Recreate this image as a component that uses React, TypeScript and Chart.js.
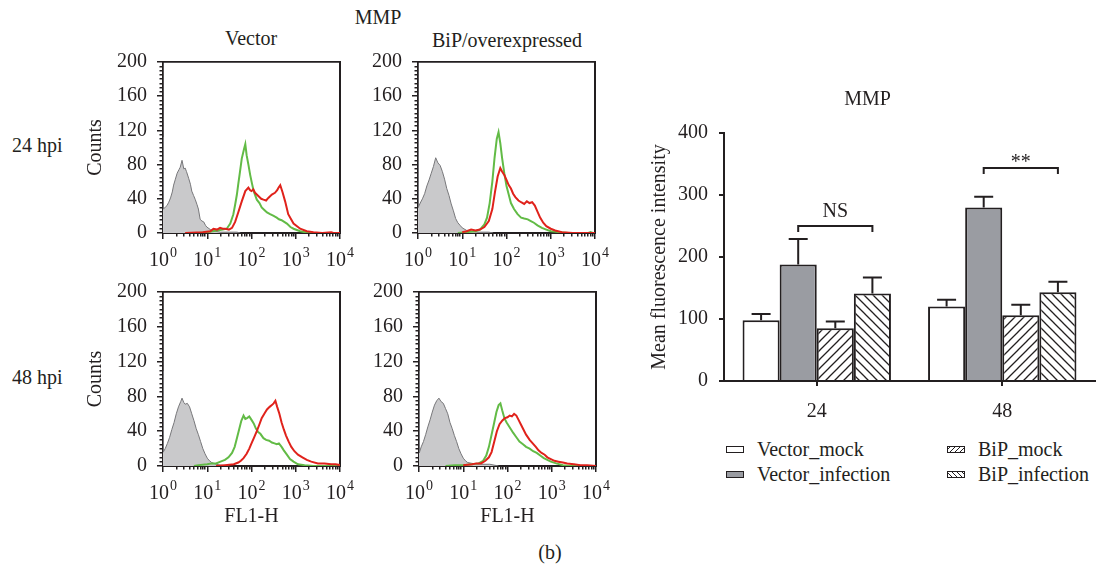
import React, { useEffect, useRef } from 'react';
import { Chart, registerables } from 'chart.js';

Chart.register(...registerables);

const FONT = "'Liberation Serif', 'Times New Roman', serif";
const INK = '#231f20';
const GRAY_FILL = '#c9c9cb';
const GRAY_LINE = '#77777a';
const GREEN = '#62bb46';
const RED = '#e0221b';
const BAR_GRAY = '#9a9ca2';

// ---------- Flow histogram data (log10 of FL1-H, counts) ----------
// 24 hpi, Vector
const v24GrayLog = [0, 0.005, 0.05, 0.09, 0.13, 0.17, 0.21, 0.24, 0.28, 0.32, 0.36, 0.39, 0.43, 0.47, 0.5, 0.53, 0.58, 0.62, 0.65, 0.69, 0.73, 0.77, 0.8, 0.84, 0.88, 0.92, 0.96, 0.99, 1.07, 1.18, 1.3, 1.5, 1.67, 1.75];
const v24GrayCounts = [112, 28, 30, 32, 36, 41, 48, 56, 63, 70, 74, 77, 85, 75, 76, 72, 64, 57, 49, 44, 39, 33, 28, 16, 14, 13, 9, 7, 4, 2, 1, 1, 1, 0];
const v24GreenLog = [0.8, 1.0, 1.22, 1.35, 1.44, 1.52, 1.59, 1.63, 1.67, 1.7, 1.73, 1.78, 1.83, 1.86, 1.89, 1.93, 1.97, 2.01, 2.05, 2.12, 2.18, 2.23, 2.29, 2.35, 2.42, 2.5, 2.57, 2.62, 2.68, 2.74, 2.8, 2.88, 2.95, 3.1, 3.3, 4.0];
const v24GreenCounts = [0, 1, 3, 4, 5, 11, 22, 33, 45, 57, 68, 87, 98, 104, 91, 80, 68, 58, 49, 39, 35, 30, 27, 24, 22, 20, 18, 16, 15, 13, 11, 7, 5, 2, 0, 0];
const v24RedLog = [0.5, 0.9, 1.07, 1.14, 1.22, 1.29, 1.35, 1.41, 1.49, 1.56, 1.63, 1.7, 1.78, 1.86, 1.93, 1.97, 2.0, 2.04, 2.08, 2.16, 2.22, 2.27, 2.33, 2.38, 2.46, 2.53, 2.58, 2.61, 2.65, 2.7, 2.76, 2.83, 2.95, 3.1, 3.25, 3.4, 3.6, 3.8, 3.85, 4.0];
const v24RedCounts = [0, 1, 2, 5, 4, 6, 5, 5, 4, 6, 13, 24, 37, 49, 53, 50, 49, 51, 47, 43, 40, 39, 38, 41, 45, 47, 50, 53, 56, 48, 37, 22, 11, 5, 2, 1, 0, 1, 0, 0];

// 24 hpi, BiP/overexpressed
const b24GrayLog = [0, 0.005, 0.05, 0.1, 0.15, 0.2, 0.25, 0.3, 0.35, 0.4, 0.45, 0.5, 0.55, 0.6, 0.65, 0.7, 0.75, 0.8, 0.85, 0.9, 0.95, 1.0, 1.1, 1.2, 1.35, 1.6, 1.7];
const b24GrayCounts = [116, 30, 35, 40, 46, 55, 62, 70, 78, 88, 82, 79, 72, 63, 52, 44, 34, 26, 17, 12, 9, 6, 3, 2, 1, 1, 0];
const b24GreenLog = [0.9, 1.1, 1.3, 1.4, 1.5, 1.56, 1.62, 1.68, 1.73, 1.78, 1.82, 1.86, 1.9, 1.95, 2.0, 2.05, 2.1, 2.17, 2.25, 2.33, 2.4, 2.48, 2.55, 2.62, 2.7, 2.8, 2.9, 3.0, 3.2, 3.4, 3.85, 3.9, 3.95];
const b24GreenCounts = [0, 1, 2, 4, 10, 18, 35, 60, 88, 110, 118, 105, 88, 70, 55, 45, 35, 28, 22, 18, 17, 16, 14, 12, 9, 6, 4, 2, 1, 0, 0, 1, 0];
const b24RedLog = [1.0, 1.1, 1.2, 1.3, 1.4, 1.5, 1.6, 1.68, 1.74, 1.8, 1.86, 1.9, 1.95, 2.0, 2.05, 2.1, 2.15, 2.2, 2.27, 2.33, 2.4, 2.46, 2.52, 2.58, 2.64, 2.7, 2.76, 2.83, 2.9, 3.0, 3.1, 3.25, 3.5, 4.0];
const b24RedCounts = [1, 2, 4, 3, 4, 7, 14, 28, 48, 66, 76, 72, 68, 62, 56, 52, 46, 42, 38, 36, 34, 37, 35, 36, 32, 25, 18, 12, 8, 5, 3, 1, 0, 0];

// 48 hpi, Vector
const v48GrayLog = [0, 0.005, 0.05, 0.1, 0.15, 0.2, 0.25, 0.3, 0.35, 0.4, 0.43, 0.47, 0.5, 0.55, 0.6, 0.65, 0.7, 0.75, 0.8, 0.85, 0.9, 0.95, 1.0, 1.05, 1.1, 1.2, 1.3, 1.5];
const v48GrayCounts = [109, 16, 20, 26, 33, 42, 50, 60, 68, 74, 78, 73, 71, 72, 68, 60, 52, 43, 36, 28, 20, 14, 9, 6, 4, 2, 1, 0];
const v48GreenLog = [0.7, 0.8, 1.0, 1.1, 1.2, 1.3, 1.4, 1.48, 1.56, 1.62, 1.67, 1.72, 1.77, 1.82, 1.86, 1.9, 1.95, 2.0, 2.05, 2.1, 2.15, 2.2, 2.27, 2.33, 2.4, 2.46, 2.52, 2.57, 2.62, 2.68, 2.73, 2.8, 2.87, 2.95, 3.05, 3.2, 3.4, 4.0];
const v48GreenCounts = [0, 1, 2, 3, 3, 5, 7, 10, 15, 22, 32, 42, 52, 58, 54, 55, 57, 53, 49, 43, 39, 37, 32, 30, 29, 27, 26, 25, 26, 22, 18, 13, 8, 5, 2, 1, 0, 0];
const v48RedLog = [1.2, 1.4, 1.6, 1.7, 1.76, 1.82, 1.89, 1.95, 2.0, 2.06, 2.12, 2.18, 2.23, 2.3, 2.35, 2.41, 2.46, 2.5, 2.54, 2.58, 2.63, 2.68, 2.73, 2.78, 2.84, 2.9, 2.97, 3.05, 3.15, 3.25, 3.35, 3.5, 3.65, 3.8, 3.9, 4.0];
const v48RedCounts = [0, 1, 2, 4, 6, 9, 14, 20, 26, 33, 40, 48, 55, 61, 65, 68, 70, 72, 75, 68, 60, 50, 42, 35, 28, 22, 17, 13, 10, 7, 5, 3, 3, 2, 2, 1];

// 48 hpi, BiP/overexpressed
const b48GrayLog = [0, 0.005, 0.05, 0.1, 0.15, 0.2, 0.25, 0.3, 0.35, 0.4, 0.45, 0.5, 0.55, 0.6, 0.65, 0.7, 0.75, 0.8, 0.85, 0.9, 0.95, 1.0, 1.05, 1.1, 1.2, 1.4, 1.6, 1.7, 1.8];
const b48GrayCounts = [109, 15, 22, 28, 36, 45, 53, 62, 70, 75, 78, 74, 72, 66, 60, 50, 43, 35, 28, 20, 14, 9, 6, 4, 3, 2, 2, 1, 0];
const b48GreenLog = [0.6, 0.8, 1.0, 1.2, 1.35, 1.45, 1.52, 1.58, 1.64, 1.7, 1.75, 1.8, 1.84, 1.88, 1.93, 1.98, 2.03, 2.08, 2.13, 2.2, 2.27, 2.35, 2.42, 2.5, 2.58, 2.66, 2.74, 2.82, 2.9, 2.98, 3.1, 3.25, 3.4, 4.0];
const b48GreenCounts = [0, 1, 1, 2, 3, 6, 12, 22, 36, 50, 62, 70, 72, 64, 55, 50, 46, 42, 38, 33, 28, 25, 22, 20, 17, 15, 12, 9, 7, 5, 3, 1, 0, 0];
const b48RedLog = [1.0, 1.2, 1.3, 1.4, 1.5, 1.58, 1.64, 1.7, 1.76, 1.82, 1.88, 1.94, 2.0, 2.05, 2.1, 2.15, 2.2, 2.25, 2.3, 2.36, 2.42, 2.5, 2.57, 2.64, 2.7, 2.77, 2.84, 2.9, 2.98, 3.06, 3.15, 3.25, 3.35, 3.5, 3.65, 3.8, 4.0];
const b48RedCounts = [1, 2, 3, 3, 6, 10, 16, 28, 40, 48, 52, 55, 56, 58, 57, 60, 58, 53, 48, 42, 36, 30, 26, 22, 18, 15, 13, 10, 8, 6, 5, 4, 3, 2, 1, 1, 0];

// axis ticks for histograms
const decadeTicks = [1, 10, 100, 1000, 10000];
const decadeExponents = ['0', '1', '2', '3', '4'];
const minorLogTicks = [2, 3, 4, 5, 6, 7, 8, 9, 20, 30, 40, 50, 60, 70, 80, 90, 200, 300, 400, 500, 600, 700, 800, 900, 2000, 3000, 4000, 5000, 6000, 7000, 8000, 9000];
const countMajorTicks = [0, 40, 80, 120, 160, 200];
const countMinorTicks = [5, 10, 15, 20, 25, 30, 35, 45, 50, 55, 60, 65, 70, 75, 85, 90, 95, 100, 105, 110, 115, 125, 130, 135, 140, 145, 150, 155, 165, 170, 175, 180, 185, 190, 195];
const countMax = 200;

// ---------- Bar chart data ----------
const timeCategories = ['24', '48'];
const seriesNames = ['Vector_mock', 'Vector_infection', 'BiP_mock', 'BiP_infection'];
const vectorMock = [98, 120];
const vectorMockErr = [10, 11];
const vectorInfection = [188, 280];
const vectorInfectionErr = [41, 17];
const bipMock = [85, 106];
const bipMockErr = [11, 17];
const bipInfection = [141, 143];
const bipInfectionErr = [26, 17];
const seriesValues = [vectorMock, vectorInfection, bipMock, bipInfection];
const seriesErrors = [vectorMockErr, vectorInfectionErr, bipMockErr, bipInfectionErr];
const bracketCategory = [0, 1];
const bracketFrom = [1, 1];
const bracketTo = [3, 3];
const bracketLevel = [250, 344];
const bracketLabel = ['NS', '**'];

type Series = { log: number[]; counts: number[] };
type Panel = {
  gray: Series; green: Series; red: Series;
  left: number; top: number; width: number; height: number;
  padTop: number; yWidth: number; xHeight: number;
  yTitle: boolean; xTitle: boolean;
};

const panels: Panel[] = [
  { gray: { log: v24GrayLog, counts: v24GrayCounts }, green: { log: v24GreenLog, counts: v24GreenCounts }, red: { log: v24RedLog, counts: v24RedCounts },
    left: 80, top: 40, width: 280, height: 230, padTop: 14, yWidth: 83, xHeight: 37, yTitle: true, xTitle: false },
  { gray: { log: b24GrayLog, counts: b24GrayCounts }, green: { log: b24GreenLog, counts: b24GreenCounts }, red: { log: b24RedLog, counts: b24RedCounts },
    left: 360, top: 40, width: 256, height: 230, padTop: 15, yWidth: 58, xHeight: 37, yTitle: false, xTitle: false },
  { gray: { log: v48GrayLog, counts: v48GrayCounts }, green: { log: v48GreenLog, counts: v48GreenCounts }, red: { log: v48RedLog, counts: v48RedCounts },
    left: 80, top: 270, width: 280, height: 260, padTop: 16, yWidth: 83, xHeight: 64, yTitle: true, xTitle: true },
  { gray: { log: b48GrayLog, counts: b48GrayCounts }, green: { log: b48GreenLog, counts: b48GreenCounts }, red: { log: b48RedLog, counts: b48RedCounts },
    left: 360, top: 270, width: 256, height: 260, padTop: 16, yWidth: 59, xHeight: 64, yTitle: false, xTitle: true },
];

// draws the plot frame (before the data) and the 10^n decade labels
const decadeLabelPlugin = {
  id: 'decadeLabels',
  beforeDatasetsDraw(chart: any) {
    const ctx: CanvasRenderingContext2D = chart.ctx;
    const a = chart.chartArea;
    ctx.save();
    ctx.fillStyle = INK;
    const L = Math.round(a.left);
    const R = Math.round(a.right);
    const T = Math.round(a.top);
    const B = Math.round(a.bottom);
    ctx.fillRect(L - 1, T - 1, R - L + 2, 1.5);
    ctx.fillRect(L - 1, B - 0.5, R - L + 2, 1.5);
    ctx.fillRect(L - 1, T - 1, 1.5, B - T + 2);
    ctx.fillRect(R - 0.5, T - 1, 1.5, B - T + 2);
    ctx.restore();
  },
  afterDraw(chart: any) {
    const ctx: CanvasRenderingContext2D = chart.ctx;
    const a = chart.chartArea;
    const x = chart.scales.x;
    ctx.save();
    ctx.fillStyle = INK;
    ctx.textBaseline = 'alphabetic';
    ctx.textAlign = 'left';
    decadeTicks.forEach((t, i) => {
      const px = x.getPixelForValue(t);
      ctx.font = `20px ${FONT}`;
      const w1 = ctx.measureText('10').width;
      ctx.font = `14px ${FONT}`;
      const w2 = ctx.measureText(decadeExponents[i]).width;
      const start = px - (w1 + w2 + 1) / 2;
      ctx.font = `20px ${FONT}`;
      ctx.fillText('10', start, a.bottom + 33);
      ctx.font = `14px ${FONT}`;
      ctx.fillText(decadeExponents[i], start + w1 + 1, a.bottom + 24);
    });
    ctx.restore();
  },
};

const setTicks = (values: number[]) => (s: any) => { s.ticks = values.map((v) => ({ value: v })); };
const tickGrid = (len: number) => ({ display: true, drawOnChartArea: false, drawTicks: true, tickLength: len, color: INK, tickColor: INK, lineWidth: 1.5, tickWidth: 1.5 });
const frameBorder = { display: true, color: INK, width: 1.5 };

function Histogram({ p }: { p: Panel }) {
  const ref = useRef<HTMLCanvasElement>(null);
  useEffect(() => {
    const mk = (s: Series) => s.log.map((e, i) => ({ x: Math.pow(10, e), y: s.counts[i] }));
    const chart = new Chart(ref.current as HTMLCanvasElement, {
      type: 'line',
      data: {
        datasets: [
          { label: 'infection', data: mk(p.red), borderColor: RED, borderWidth: 2, pointRadius: 0, fill: false, tension: 0, order: 1 },
          { label: 'mock', data: mk(p.green), borderColor: GREEN, borderWidth: 2, pointRadius: 0, fill: false, tension: 0, order: 2 },
          { label: 'control', data: mk(p.gray), borderColor: GRAY_LINE, borderWidth: 1, backgroundColor: GRAY_FILL, fill: 'origin', pointRadius: 0, tension: 0, order: 3 },
        ],
      } as any,
      options: {
        responsive: false,
        animation: false,
        layout: { padding: { top: p.padTop, right: p.width - p.yWidth - 177, left: 0, bottom: 0 } },
        plugins: { legend: { display: false }, tooltip: { enabled: false } },
        scales: {
          x: {
            type: 'logarithmic', position: 'bottom', min: 1, max: 10000, weight: 1,
            ticks: { display: false },
            grid: tickGrid(6),
            border: frameBorder,
            afterBuildTicks: setTicks(decadeTicks),
            title: { display: p.xTitle, text: 'FL1-H', color: INK, font: { family: FONT, size: 20 }, padding: { top: 0, bottom: 1 } },
            afterFit: (s: any) => { s.height = p.xHeight; },
          },
          xMinor: {
            type: 'logarithmic', position: 'bottom', min: 1, max: 10000, weight: -1,
            ticks: { display: false },
            grid: tickGrid(3.5),
            border: { display: false },
            afterBuildTicks: setTicks(minorLogTicks),
            afterFit: (s: any) => { s.height = 0; },
          },
          xTop: {
            type: 'logarithmic', position: 'top', min: 1, max: 10000,
            ticks: { display: false },
            grid: { display: false },
            border: frameBorder,
            afterFit: (s: any) => { s.height = 0; },
          },
          y: {
            type: 'linear', position: 'left', min: 0, max: countMax, weight: 1,
            ticks: { color: INK, font: { family: FONT, size: 20 }, padding: 10 },
            grid: tickGrid(6),
            border: frameBorder,
            afterBuildTicks: setTicks(countMajorTicks),
            title: { display: p.yTitle, text: 'Counts', color: INK, font: { family: FONT, size: 20 }, padding: { top: 4, bottom: 0 } },
            afterFit: (s: any) => { s.width = p.yWidth; },
          },
          yMinor: {
            type: 'linear', position: 'left', min: 0, max: countMax, weight: -1,
            ticks: { display: false },
            grid: tickGrid(3.5),
            border: { display: false },
            afterBuildTicks: setTicks(countMinorTicks),
            afterFit: (s: any) => { s.width = 0; },
          },
          yRight: {
            type: 'linear', position: 'right', min: 0, max: countMax,
            ticks: { display: false },
            grid: { display: false },
            border: frameBorder,
            afterFit: (s: any) => { s.width = 0; },
          },
        },
      } as any,
      plugins: [decadeLabelPlugin],
    });
    return () => chart.destroy();
  }, [p]);
  return (
    <canvas ref={ref} width={p.width} height={p.height}
      style={{ position: 'absolute', left: p.left, top: p.top, width: p.width, height: p.height }} />
  );
}

function makeHatch(forward: boolean) {
  const s = 9;
  const c = document.createElement('canvas');
  c.width = s;
  c.height = s;
  const g = c.getContext('2d') as CanvasRenderingContext2D;
  g.fillStyle = '#ffffff';
  g.fillRect(0, 0, s, s);
  g.strokeStyle = INK;
  g.lineWidth = 1.3;
  g.beginPath();
  if (forward) {
    g.moveTo(-1, s + 1); g.lineTo(s + 1, -1);
    g.moveTo(-2, 2); g.lineTo(2, -2);
    g.moveTo(s - 2, s + 2); g.lineTo(s + 2, s - 2);
  } else {
    g.moveTo(-1, -1); g.lineTo(s + 1, s + 1);
    g.moveTo(s - 2, -2); g.lineTo(s + 2, 2);
    g.moveTo(-2, s - 2); g.lineTo(2, s + 2);
  }
  g.stroke();
  return g.createPattern(c, 'repeat') as CanvasPattern;
}

const barDecorPlugin = {
  id: 'barDecor',
  afterDatasetsDraw(chart: any) {
    const ctx: CanvasRenderingContext2D = chart.ctx;
    const y = chart.scales.y;
    ctx.save();
    ctx.strokeStyle = INK;
    ctx.lineWidth = 2;
    ctx.beginPath();
    seriesValues.forEach((vals, i) => {
      const meta = chart.getDatasetMeta(i);
      meta.data.forEach((bar: any, j: number) => {
        const yTop = y.getPixelForValue(vals[j] + seriesErrors[i][j]);
        ctx.moveTo(bar.x, bar.y);
        ctx.lineTo(bar.x, yTop);
        ctx.moveTo(bar.x - 9.5, yTop);
        ctx.lineTo(bar.x + 9.5, yTop);
      });
    });
    ctx.stroke();
    ctx.fillStyle = INK;
    ctx.font = `20px ${FONT}`;
    ctx.textAlign = 'center';
    ctx.textBaseline = 'alphabetic';
    bracketLevel.forEach((lvl, k) => {
      const b1 = chart.getDatasetMeta(bracketFrom[k]).data[bracketCategory[k]];
      const b2 = chart.getDatasetMeta(bracketTo[k]).data[bracketCategory[k]];
      const yb = Math.round(y.getPixelForValue(lvl));
      ctx.beginPath();
      ctx.moveTo(b1.x, yb + 6);
      ctx.lineTo(b1.x, yb);
      ctx.lineTo(b2.x, yb);
      ctx.lineTo(b2.x, yb + 6);
      ctx.stroke();
      const lift = bracketLabel[k] === 'NS' ? 9 : 0;
      ctx.fillText(bracketLabel[k], (b1.x + b2.x) / 2, yb - lift);
    });
    ctx.restore();
  },
};

function BarPanel() {
  const ref = useRef<HTMLCanvasElement>(null);
  useEffect(() => {
    const fills: any[] = ['#ffffff', BAR_GRAY, makeHatch(true), makeHatch(false)];
    const chart = new Chart(ref.current as HTMLCanvasElement, {
      type: 'bar',
      data: {
        labels: timeCategories,
        datasets: seriesValues.map((vals, i) => ({
          label: seriesNames[i],
          data: vals,
          backgroundColor: fills[i],
          borderColor: INK,
          borderWidth: 2,
          categoryPercentage: 0.8,
          barPercentage: 1.0,
        })),
      },
      options: {
        responsive: false,
        animation: false,
        layout: { padding: { top: 0, right: 6, left: 0, bottom: 0 } },
        plugins: {
          legend: { display: false },
          tooltip: { enabled: false },
          title: { display: true, text: 'MMP', color: INK, font: { family: FONT, size: 20, weight: 'normal' }, padding: { top: 8, bottom: 21 } },
        },
        scales: {
          x: {
            grid: { display: true, drawOnChartArea: false, offset: false, drawTicks: true, tickLength: 5, color: INK, lineWidth: 2 },
            border: { display: true, color: INK, width: 2 },
            ticks: { color: INK, font: { family: FONT, size: 20 }, padding: 14 },
            afterFit: (s: any) => { s.height = 44; },
          },
          y: {
            min: 0,
            max: 400,
            ticks: { stepSize: 100, color: INK, font: { family: FONT, size: 20 }, padding: 11 },
            grid: { display: true, drawOnChartArea: false, drawTicks: true, tickLength: 5, color: INK, lineWidth: 2 },
            border: { display: true, color: INK, width: 2 },
            title: { display: true, text: 'Mean fluorescence intensity', color: INK, font: { family: FONT, size: 20 }, padding: { top: 8, bottom: 0 } },
            afterFit: (s: any) => { s.width = 84; },
          },
        },
      } as any,
      plugins: [barDecorPlugin],
    });
    return () => chart.destroy();
  }, []);
  return (
    <canvas ref={ref} width={461} height={345}
      style={{ position: 'absolute', left: 640, top: 80, width: 461, height: 345 }} />
  );
}

const textStyle: React.CSSProperties = {
  position: 'absolute',
  fontFamily: FONT,
  fontSize: 20,
  lineHeight: '20px',
  color: INK,
  whiteSpace: 'nowrap',
};

function Centered({ x, y, children }: { x: number; y: number; children: React.ReactNode }) {
  return <div style={{ ...textStyle, left: x, top: y, transform: 'translate(-50%, -50%)' }}>{children}</div>;
}

const legendSwatches: React.CSSProperties[] = [
  { background: '#ffffff' },
  { background: BAR_GRAY },
  { background: `repeating-linear-gradient(-45deg, #ffffff 0px, #ffffff 2.5px, ${INK} 2.5px, ${INK} 3.5px)` },
  { background: `repeating-linear-gradient(45deg, #ffffff 0px, #ffffff 2.5px, ${INK} 2.5px, ${INK} 3.5px)` },
];
const legendX = [726, 726, 947, 947];
const legendY = [450, 475, 450, 475];

export default function App() {
  return (
    <div style={{ position: 'absolute', left: 0, top: 0, width: 1101, height: 575, background: '#ffffff', overflow: 'hidden' }}>
      <Centered x={378} y={17}>MMP</Centered>
      <Centered x={251} y={38}>Vector</Centered>
      <Centered x={507} y={40}>BiP/overexpressed</Centered>
      <div style={{ ...textStyle, left: 12, top: 135 }}>24 hpi</div>
      <div style={{ ...textStyle, left: 12, top: 367 }}>48 hpi</div>
      <Centered x={550} y={552}>(b)</Centered>
      {panels.map((p, i) => <Histogram key={i} p={p} />)}
      <BarPanel />
      {seriesNames.map((n, i) => (
        <React.Fragment key={n}>
          <div style={{ position: 'absolute', left: legendX[i], top: legendY[i] - 4, width: 16, height: 5, border: `1.5px solid ${INK}`, ...legendSwatches[i] }} />
          <div style={{ ...textStyle, left: legendX[i] + 31, top: legendY[i] - 11 }}>{n}</div>
        </React.Fragment>
      ))}
    </div>
  );
}
